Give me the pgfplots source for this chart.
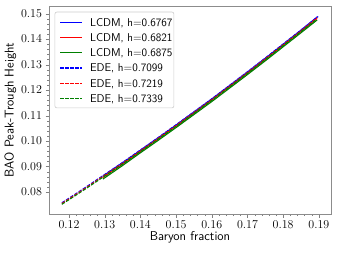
\documentclass[border=0pt]{standalone}
\usepackage{pgfplots}
\pgfplotsset{compat=1.18}
\definecolor{mgreen}{rgb}{0,0.5,0}
\definecolor{mblue}{rgb}{0,0,1}
\definecolor{mred}{rgb}{1,0,0}
\begin{document}
\begin{tikzpicture}
\begin{axis}[
  scale only axis, width=282pt, height=208pt,
  xmin=0.1144, xmax=0.1934, ymin=0.0714, ymax=0.1530,
  axis line style={draw=black!45, line width=0.8pt},
  tick pos=left, tick align=outside,
  major tick length=3.5pt, minor tick length=2pt,
  xtick={0.12,0.13,0.14,0.15,0.16,0.17,0.18,0.19},
  ytick={0.08,0.09,0.10,0.11,0.12,0.13,0.14,0.15},
  minor x tick num=4, minor y tick num=4,
  scaled ticks=false,
  xticklabel style={/pgf/number format/.cd, fixed, fixed zerofill, precision=2},
  yticklabel style={/pgf/number format/.cd, fixed, fixed zerofill, precision=2},
  tick label style={font=\fontsize{12}{14}\selectfont},
  xlabel={\sffamily Baryon fraction}, ylabel={\sffamily BAO Peak-Trough Height},
  label style={font=\fontsize{12.8}{14}\selectfont},
  xlabel style={yshift=4pt}, ylabel style={yshift=-2pt},
  clip=false,
]
\addplot[draw=mblue, line width=1.1pt] coordinates {(0.1295,0.0863) (0.135,0.0915) (0.14,0.0964) (0.145,0.1013) (0.15,0.1063) (0.155,0.1114) (0.16,0.1165) (0.165,0.1218) (0.17,0.1271) (0.175,0.1325) (0.18,0.1380) (0.185,0.1435) (0.1895,0.1487)};
\addplot[draw=mred, line width=1.1pt] coordinates {(0.1295,0.0857) (0.135,0.0909) (0.14,0.0959) (0.145,0.1008) (0.15,0.1058) (0.155,0.1109) (0.16,0.1160) (0.165,0.1213) (0.17,0.1266) (0.175,0.1320) (0.18,0.1375) (0.185,0.1430) (0.1895,0.1481)};
\addplot[draw=mgreen, line width=1.1pt] coordinates {(0.1295,0.0851) (0.135,0.0904) (0.14,0.0954) (0.145,0.1003) (0.15,0.1053) (0.155,0.1104) (0.16,0.1155) (0.165,0.1208) (0.17,0.1261) (0.175,0.1315) (0.18,0.1370) (0.185,0.1425) (0.1895,0.1475)};
\addplot[draw=mblue, line width=1.1pt, dash pattern=on 3.5pt off 1.5pt] coordinates {(0.118,0.0758) (0.12,0.0776) (0.125,0.0822) (0.13,0.0869) (0.135,0.0916) (0.14,0.0965) (0.145,0.1014) (0.15,0.1064) (0.155,0.1115) (0.16,0.1166) (0.165,0.1219) (0.17,0.1272) (0.175,0.1326) (0.18,0.1381) (0.185,0.1436) (0.1898,0.1489)};
\addplot[draw=mred, line width=1.1pt, dash pattern=on 3.5pt off 1.5pt] coordinates {(0.118,0.0755) (0.12,0.0773) (0.125,0.0819) (0.13,0.0866) (0.135,0.0913) (0.14,0.0962) (0.145,0.1011) (0.15,0.1061) (0.155,0.1112) (0.16,0.1163) (0.165,0.1216) (0.17,0.1269) (0.175,0.1323) (0.18,0.1378) (0.185,0.1433) (0.1895,0.1484)};
\addplot[draw=mgreen, line width=1.1pt, dash pattern=on 3.5pt off 1.5pt] coordinates {(0.118,0.0752) (0.12,0.0770) (0.125,0.0816) (0.13,0.0863) (0.135,0.0910) (0.14,0.0959) (0.145,0.1008) (0.15,0.1058) (0.155,0.1109) (0.16,0.1160) (0.165,0.1213) (0.17,0.1266) (0.175,0.1320) (0.18,0.1375) (0.185,0.1430) (0.189,0.1474)};
% legend (frame, keys, texts)
\draw[draw=black!20, fill=white, rounded corners=2pt, line width=0.6pt] (axis description cs:0.021,0.971) rectangle (axis description cs:0.443,0.510);
\draw[mblue, line width=1.3pt] (axis description cs:0.039,0.922) -- (axis description cs:0.117,0.922);
\draw[mred, line width=1.3pt] (axis description cs:0.039,0.849) -- (axis description cs:0.117,0.849);
\draw[mgreen, line width=1.3pt] (axis description cs:0.039,0.777) -- (axis description cs:0.117,0.777);
\draw[mblue, line width=1.3pt, dash pattern=on 3.5pt off 1.5pt] (axis description cs:0.039,0.702) -- (axis description cs:0.117,0.702);
\draw[mred, line width=1.3pt, dash pattern=on 3.5pt off 1.5pt] (axis description cs:0.039,0.629) -- (axis description cs:0.117,0.629);
\draw[mgreen, line width=1.3pt, dash pattern=on 3.5pt off 1.5pt] (axis description cs:0.039,0.555) -- (axis description cs:0.117,0.555);
\begin{scope}[every node/.style={anchor=base west, inner sep=0pt, yshift=-3.9pt, font=\sffamily\fontsize{11.3}{13}\selectfont}]
\node at (axis description cs:0.145,0.922) {LCDM, h=0.6767};
\node at (axis description cs:0.145,0.849) {LCDM, h=0.6821};
\node at (axis description cs:0.145,0.777) {LCDM, h=0.6875};
\node at (axis description cs:0.145,0.702) {EDE, h=0.7099};
\node at (axis description cs:0.145,0.629) {EDE, h=0.7219};
\node at (axis description cs:0.145,0.555) {EDE, h=0.7339};
\end{scope}
\end{axis}
\pgfresetboundingbox
\useasboundingbox ([shift={(-49pt,-41pt)}]current axis.south west) rectangle ([shift={(8pt,6pt)}]current axis.north east);
\end{tikzpicture}
\end{document}
